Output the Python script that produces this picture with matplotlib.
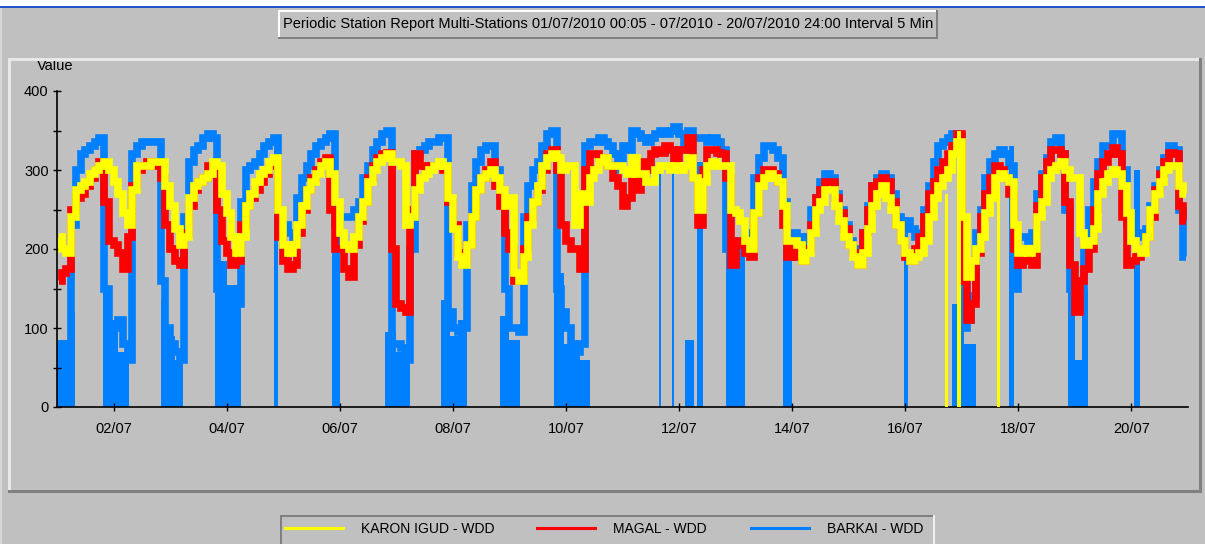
import numpy as np
import matplotlib
matplotlib.use("Agg")
import matplotlib.pyplot as plt
from matplotlib.patches import Rectangle
from matplotlib.transforms import Bbox, TransformedBbox

plt.rcParams['font.family'] = ['Liberation Sans', 'DejaVu Sans']

W, H = 1205, 544

# 2-hourly readings, one row per day, 01/07 .. 20/07
karon = [
    [215, 200, 195, 240, 275, 280, 285, 295, 300, 305, 310, 300],
    [285, 270, 245, 230, 275, 305, 305, 305, 310, 310, 310, 280],
    [255, 225, 205, 215, 265, 280, 285, 290, 295, 310, 305, 270],
    [245, 215, 195, 215, 255, 270, 285, 295, 300, 310, 315, 250],
    [205, 195, 205, 230, 255, 275, 285, 295, 305, 310, 295, 260],
    [220, 205, 200, 215, 240, 260, 285, 300, 310, 315, 320, 310],
    [310, 305, 230, 240, 275, 290, 295, 300, 305, 310, 305, 265],
    [225, 190, 180, 205, 240, 275, 290, 295, 300, 290, 275, 255],
    [265, 170, 160, 190, 230, 260, 280, 305, 315, 320, 315, 300],
    [305, 305, 230, 270, 260, 290, 300, 310, 315, 305, 305, 305],
    [300, 295, 315, 295, 295, 285, 285, 300, 305, 305, 300, 305],
    [300, 305, 315, 290, 250, 285, 305, 310, 305, 305, 305, 250],
    [245, 235, 210, 200, 245, 280, 290, 295, 290, 285, 255, 210],
    [210, 205, 185, 195, 220, 250, 260, 275, 275, 255, 235, 215],
    [205, 190, 180, 195, 225, 255, 270, 280, 265, 250, 230, 210],
    [195, 185, 190, 195, 210, 240, 265, 280, 290, 300, 320, 335],
    [240, 165, 185, 200, 215, 245, 265, 290, 295, 290, 285, 230],
    [195, 200, 195, 200, 240, 260, 290, 300, 305, 310, 300, 290],
    [290, 220, 205, 210, 225, 270, 285, 295, 300, 295, 280, 245],
    [210, 200, 195, 215, 250, 270, 285, 300, 305, 305, 280, 270],
]
magal = [
    [160, 170, 175, 250, 265, 270, 280, 290, 300, 310, 260, 210],
    [205, 195, 175, 215, 280, 300, 305, 310, 310, 305, 290, 230],
    [200, 185, 180, 220, 255, 275, 285, 290, 305, 305, 250, 210],
    [195, 180, 185, 230, 255, 265, 275, 285, 295, 305, 310, 215],
    [185, 175, 180, 220, 250, 275, 290, 300, 310, 315, 250, 200],
    [200, 175, 165, 205, 235, 260, 290, 305, 315, 320, 322, 200],
    [130, 125, 120, 250, 320, 305, 300, 305, 305, 305, 300, 260],
    [230, 195, 185, 205, 240, 275, 290, 300, 310, 280, 255, 220],
    [200, 160, 165, 200, 240, 260, 275, 300, 320, 325, 300, 230],
    [210, 200, 200, 175, 300, 320, 320, 315, 310, 305, 290, 280],
    [255, 265, 290, 275, 310, 300, 320, 325, 322, 330, 325, 305],
    [325, 325, 340, 290, 230, 300, 325, 325, 322, 320, 290, 180],
    [210, 205, 195, 190, 245, 290, 300, 300, 295, 285, 230, 190],
    [200, 190, 185, 200, 230, 265, 275, 285, 285, 265, 245, 225],
    [205, 195, 180, 220, 250, 280, 285, 290, 285, 260, 230, 210],
    [190, 185, 200, 215, 240, 270, 285, 300, 310, 320, 330, 345],
    [160, 110, 130, 195, 240, 270, 290, 305, 300, 290, 270, 200],
    [180, 190, 185, 180, 255, 290, 310, 325, 325, 320, 260, 180],
    [120, 160, 175, 200, 250, 295, 310, 320, 328, 320, 240, 180],
    [185, 190, 200, 215, 240, 275, 295, 310, 322, 320, 255, 235],
]
barkai = [
    [80, 70, 65, 230, 300, 320, 325, 330, 335, 340, 150, 100],
    [100, 110, 80, 60, 320, 330, 335, 335, 335, 335, 160, 100],
    [80, 70, 60, 240, 310, 325, 330, 340, 345, 340, 150, 120],
    [130, 140, 130, 260, 300, 305, 310, 320, 330, 335, 340, 220],
    [230, 220, 215, 265, 290, 305, 320, 330, 335, 340, 345, 230],
    [240, 240, 240, 250, 260, 290, 305, 325, 335, 345, 350, 80],
    [80, 75, 60, 200, 320, 325, 330, 335, 335, 340, 340, 120],
    [100, 95, 100, 230, 280, 310, 325, 330, 330, 300, 270, 150],
    [100, 100, 95, 240, 280, 300, 310, 330, 345, 350, 150, 120],
    [100, 80, 70, 80, 330, 335, 335, 340, 335, 330, 320, 300],
    [330, 325, 350, 345, 340, 335, 340, 345, 350, 345, 350, 355],
    [345, 330, 350, 340, 340, 340, 335, 340, 335, 325, 200, 210],
    [200, 200, 220, 220, 290, 315, 330, 330, 325, 315, 260, 190],
    [220, 215, 205, 215, 250, 265, 285, 295, 290, 270, 250, 230],
    [210, 200, 190, 220, 255, 280, 290, 295, 290, 270, 240, 235],
    [235, 225, 215, 220, 250, 280, 310, 330, 335, 340, 345, 340],
    [100, 110, 140, 220, 250, 290, 310, 320, 325, 320, 305, 150],
    [215, 215, 210, 220, 270, 295, 315, 335, 340, 320, 250, 150],
    [150, 150, 200, 250, 285, 310, 330, 330, 345, 345, 300, 230],
    [220, 220, 215, 225, 255, 280, 300, 315, 330, 325, 250, 190],
]

# stretches where BARKAI keeps hitting zero: (start hour, end hour, top of the block)
barkai_drops = [
    (0, 5, 85), (5, 7.5, 120), (19.5, 23, 150), (23, 26, 110), (26, 30.5, 70),
    (44, 47, 135), (47, 50, 90), (50, 53.5, 60), (67, 72, 185), (72, 78, 155),
    (92, 94, 330), (116.5, 120, 220), (139, 144, 95), (144, 150, 70),
    (163, 167, 135), (167, 170, 90), (170, 174, 110), (188, 192, 115), (192, 196.5, 85),
    (211, 215, 170), (215, 222, 80), (222, 226, 60), (255.5, 256.5, 305), (261, 262, 305),
    (266.5, 270.5, 85), (271.5, 274, 310), (284, 292, 200), (308, 312, 190),
    (359.5, 361, 240), (380, 385, 130), (385, 390, 80), (404, 406, 330),
    (429, 432, 170), (432, 435, 60), (435, 437.5, 150), (457, 459.5, 300),
]
# KARON samples that fall to zero
karon_drops = [(377, 378.2, 270), (382, 383.5, 350), (399, 400, 300)]

tick_labels = ['02/07', '04/07', '06/07', '08/07', '10/07',
               '12/07', '14/07', '16/07', '18/07', '20/07']
names = ['KARON IGUD - WDD', 'MAGAL - WDD', 'BARKAI - WDD']
colors = ['#FFFF00', '#FF0000', '#0080FF']
title = ('Periodic Station Report Multi-Stations 01/07/2010 00:05 - 07/2010 - '
         '20/07/2010 24:00 Interval 5 Min')

GRAY = '#C0C0C0'
FS = 10.5


def fx(x):
    return x / W


def fy(y):
    return 1 - y / H


def rect(fig, x0, y0, x1, y1, color, z=5):
    fig.add_artist(Rectangle((fx(x0), fy(y1)), fx(x1) - fx(x0), fy(y0) - fy(y1),
                             transform=fig.transFigure, facecolor=color,
                             edgecolor='none', zorder=z))


def bevel(fig, x0, y0, x1, y1, tl, br, w):
    rect(fig, x0, y0, x1, y0 + w, tl)
    rect(fig, x0, y0, x0 + w, y1, tl)
    rect(fig, x0, y1 - w, x1, y1, br)
    rect(fig, x1 - w, y0, x1, y1, br)


fig = plt.figure(figsize=(W / 100, H / 100), dpi=100, facecolor=GRAY)

# window chrome
rect(fig, 0, 0, W, 6, 'white')
rect(fig, 0, 6, W, 8, '#2456C8')
rect(fig, 0, 8, 2, H, '#D8D8D8')
bevel(fig, 8, 58, 1202, 493, '#E8E8E8', '#808080', 3)
bevel(fig, 278, 10, 938, 39, '#FFFFFF', '#808080', 2)
fig.text(fx(608), fy(24), title, ha='center', va='center', fontsize=FS)

ax = fig.add_axes([fx(57), fy(407), fx(1188) - fx(57), fy(91) - fy(407)])
ax.set_facecolor('none')

hours = np.arange(240) * 2 + 1
k = np.ravel(karon)
m = np.ravel(magal)
b = np.ravel(barkai)

bs = np.array([d[0] for d in barkai_drops])
be = np.array([d[1] for d in barkai_drops])
bt = np.array([d[2] for d in barkai_drops])
ax.bar(bs, bt, width=be - bs, align='edge', color=colors[2], linewidth=0, zorder=1)
for vals, c, z in [(b, colors[2], 2), (m, colors[1], 3), (k, colors[0], 4)]:
    ax.plot(hours, vals, color=c, lw=5.5, zorder=z, drawstyle='steps-mid',
            solid_joinstyle='miter', solid_capstyle='butt')
ks = np.array([d[0] for d in karon_drops])
ke = np.array([d[1] for d in karon_drops])
kt = np.array([d[2] for d in karon_drops])
ax.bar(ks, kt, width=ke - ks, align='edge', color=colors[0], linewidth=0, zorder=4)

ax.set_xlim(0, 480)
ax.set_ylim(0, 400)
ax.spines['top'].set_visible(False)
ax.spines['right'].set_visible(False)
ax.spines['left'].set_linewidth(1.2)
ax.spines['bottom'].set_linewidth(1.2)
ax.set_xticks(np.arange(len(tick_labels)) * 48 + 24)
ax.set_xticklabels(tick_labels)
ax.set_yticks([0, 100, 200, 300, 400])
ax.set_yticks([50, 150, 250, 350], minor=True)
ax.tick_params(axis='both', which='both', direction='inout', length=6, width=1,
               labelsize=FS, pad=3)
ax.tick_params(axis='x', pad=8)

# the axis title sits right under the panel edge and is cut by it
vt = fig.text(fx(55), fy(66), 'Value', ha='center', va='center', fontsize=FS, zorder=1)
vt.set_clip_box(TransformedBbox(Bbox([[fx(8), fy(493)], [fx(1202), fy(61)]]),
                                fig.transFigure))
vt.set_clip_on(True)

# legend box
bevel(fig, 280, 515, 935, 546, '#808080', '#F0F0F0', 2)
line_x = [(285, 343), (537, 595), (751, 809)]
text_x = [361, 613, 827]
for (x0, x1), tx, c, n in zip(line_x, text_x, colors, names):
    fig.add_artist(plt.Line2D([fx(x0), fx(x1)], [fy(528), fy(528)], color=c, lw=2.2,
                              transform=fig.transFigure, zorder=6))
    fig.text(fx(tx), fy(529), n, ha='left', va='center', fontsize=10)

fig.savefig('out.png', dpi=100, facecolor=GRAY)
